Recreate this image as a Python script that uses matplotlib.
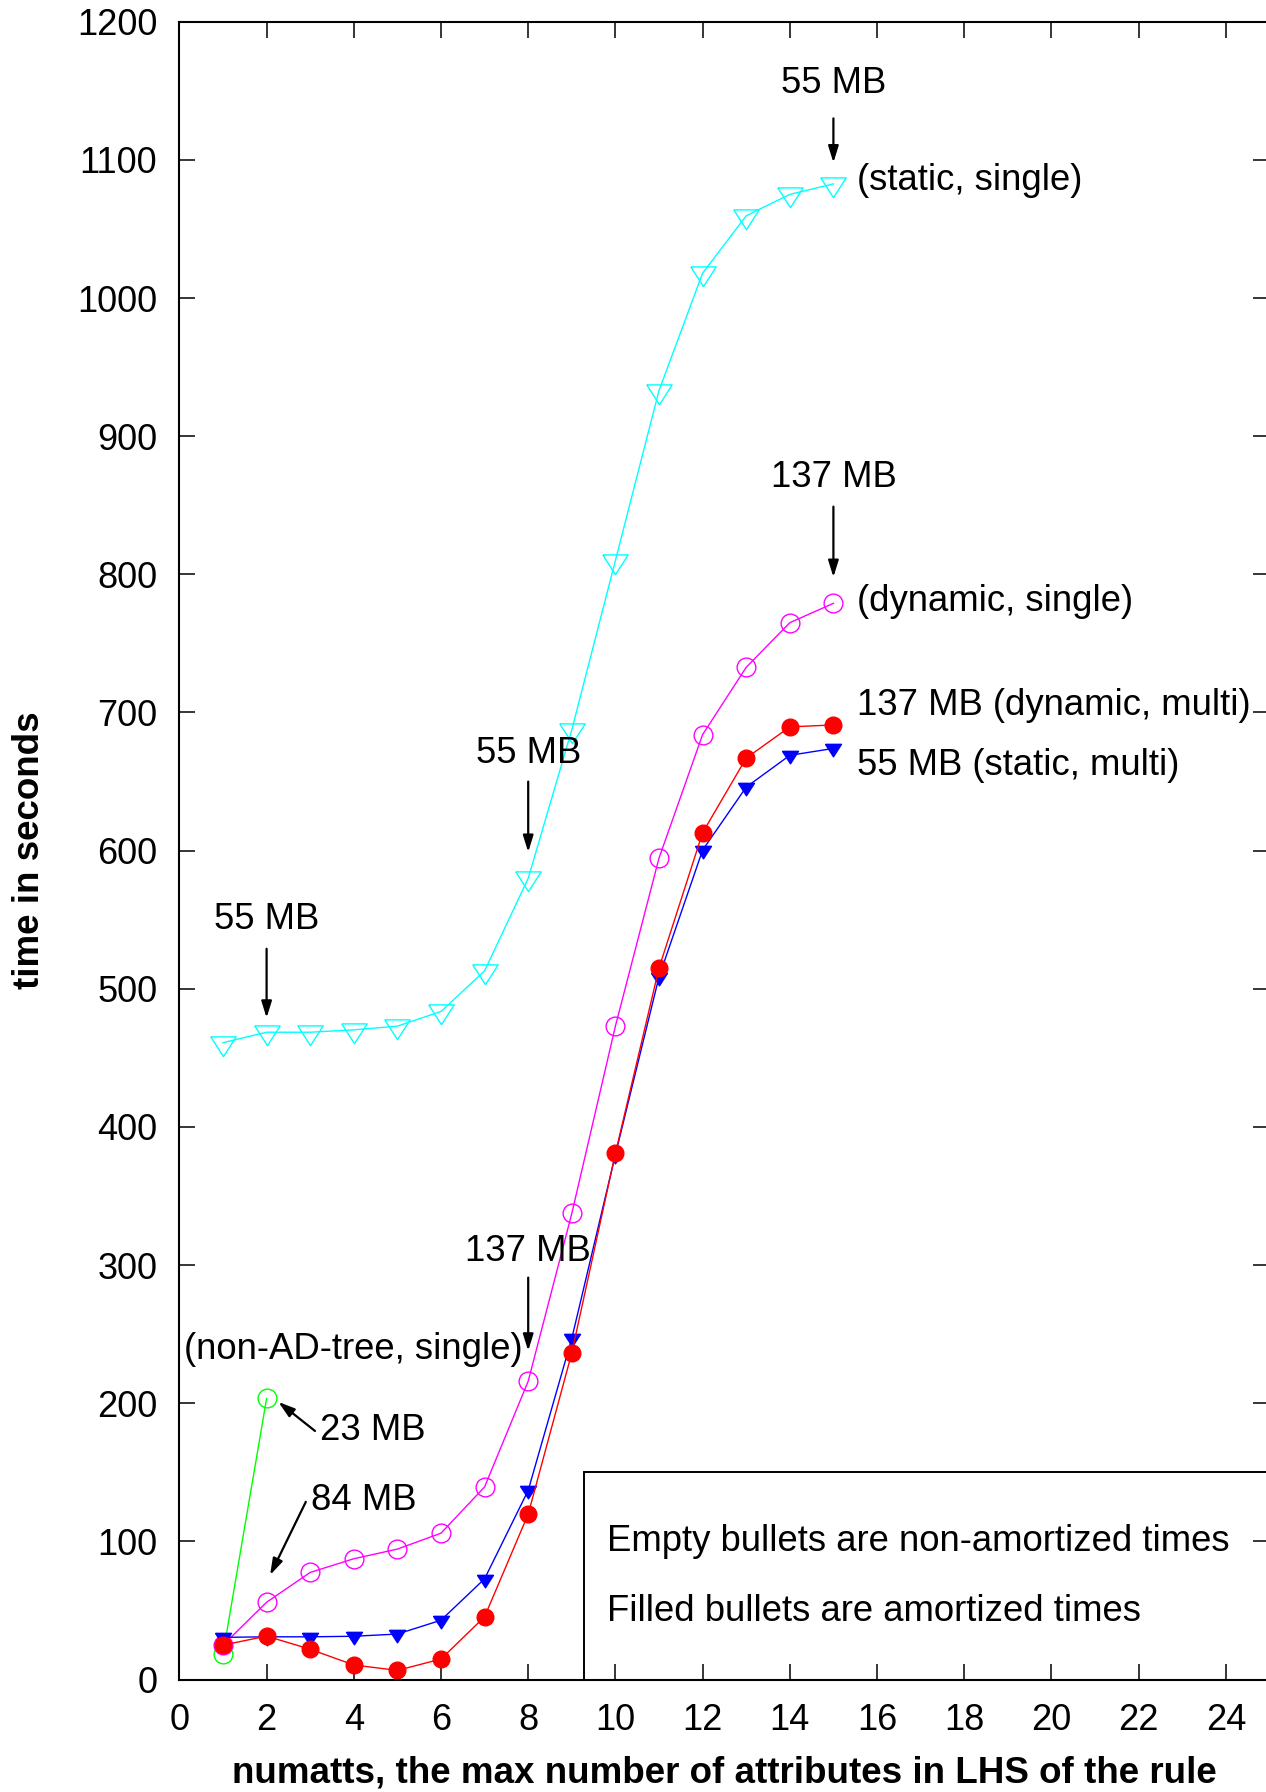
import matplotlib.pyplot as plt
from matplotlib.patches import Rectangle

plt.rcParams['font.family'] = ['Liberation Sans', 'DejaVu Sans']

numatts = [1, 2, 3, 4, 5, 6, 7, 8, 9, 10, 11, 12, 13, 14, 15]
static_single = [461, 468.6, 468.6, 470.3, 473, 483.6, 513, 580, 687.5, 810,
                 933, 1018, 1059.5, 1075, 1082.6]
dynamic_single = [25, 56, 77.6, 87.5, 94.5, 106, 139.5, 216, 337.4, 473,
                  594.6, 684, 732.7, 765, 779]
static_multi = [30.6, 31, 31, 31.4, 33, 43, 73, 137, 247, 380,
                508.6, 600.4, 646, 669, 674]
dynamic_multi = [25, 31.5, 22, 10.6, 6.7, 14.9, 45.5, 119.8, 236.5, 381,
                 515, 613, 667, 689.6, 691]
nonadtree_x = [1, 2]
nonadtree_single = [18.5, 203.5]

# downward triangle with its centroid on the data point
tri_down = [(-1.0, 0.52), (1.0, 0.52), (0.0, -1.04), (-1.0, 0.52)]

fig = plt.figure(figsize=(12.66, 17.92), dpi=100)
ax = fig.add_axes([0.1417, 0.0627, 0.861, 0.9252])

ax.plot(nonadtree_x, nonadtree_single, color='#00ff00', lw=1.0,
        marker='o', ms=13.5, mfc='none', mec='#00ff00', mew=1.0)
ax.plot(numatts, static_single, color='#00ffff', lw=1.0,
        marker=tri_down, ms=19, mfc='none', mec='#00ffff', mew=1.0)
ax.plot(numatts, dynamic_single, color='#ff00ff', lw=1.0,
        marker='o', ms=13.5, mfc='none', mec='#ff00ff', mew=1.0)
ax.plot(numatts, static_multi, color='#0000ff', lw=1.0,
        marker=tri_down, ms=12, mfc='#0000ff', mec='#0000ff')
ax.plot(numatts, dynamic_multi, color='#ff0000', lw=1.0,
        marker='o', ms=12, mfc='#ff0000', mec='#ff0000')

fs = 26.3
arrow = dict(arrowstyle='-|>,head_length=0.45,head_width=0.14', color='black',
             lw=1.6, mutation_scale=22, shrinkA=0, shrinkB=0)

# memory annotations
ax.text(15, 1155, '55 MB', fontsize=fs, ha='center', va='center')
ax.annotate('', xy=(15, 1098), xytext=(15, 1130), arrowprops=arrow)
ax.text(15.54, 1085, '(static, single)', fontsize=fs, ha='left', va='center')

ax.text(15, 870, '137 MB', fontsize=fs, ha='center', va='center')
ax.annotate('', xy=(15, 798), xytext=(15, 849), arrowprops=arrow)
ax.text(15.54, 780, '(dynamic, single)', fontsize=fs, ha='left', va='center')

ax.text(15.54, 705, '137 MB (dynamic, multi)', fontsize=fs, ha='left', va='center')
ax.text(15.54, 662, '55 MB (static, multi)', fontsize=fs, ha='left', va='center')

ax.text(8, 670, '55 MB', fontsize=fs, ha='center', va='center')
ax.annotate('', xy=(8, 599), xytext=(8, 650), arrowprops=arrow)

ax.text(2, 550, '55 MB', fontsize=fs, ha='center', va='center')
ax.annotate('', xy=(2, 479), xytext=(2, 529), arrowprops=arrow)

ax.text(8, 310, '137 MB', fontsize=fs, ha='center', va='center')
ax.annotate('', xy=(8, 238), xytext=(8, 291), arrowprops=arrow)

ax.text(4.0, 239, '(non-AD-tree, single)', fontsize=fs, ha='center', va='center')

ax.text(3.22, 180, '23 MB', fontsize=fs, ha='left', va='center')
ax.annotate('', xy=(2.27, 201), xytext=(3.11, 180), arrowprops=arrow)

ax.text(3.01, 130, '84 MB', fontsize=fs, ha='left', va='center')
ax.annotate('', xy=(2.08, 75.7), xytext=(2.90, 128.7), arrowprops=arrow)

# note box in the lower right corner
ax.add_patch(Rectangle((9.27, 0), 20, 150, fill=False, edgecolor='black',
                       lw=1.4, clip_on=True))
ax.text(9.8, 100, 'Empty bullets are non-amortized times', fontsize=fs,
        ha='left', va='center')
ax.text(9.8, 49.6, 'Filled bullets are amortized times', fontsize=fs,
        ha='left', va='center')

ax.set_xlim(0, 25)
ax.set_ylim(0, 1200)
ax.set_xticks(range(0, 25, 2))
ax.set_yticks(range(0, 1201, 100))
ax.tick_params(direction='in', length=11.5, width=1.1, top=True, right=True,
               labelsize=26)
ax.tick_params(axis='x', pad=17)
ax.tick_params(axis='y', pad=16)
for s in ax.spines.values():
    s.set_linewidth(1.5)

ax.set_xlabel('numatts, the max number of attributes in LHS of the rule',
              fontsize=26.5, fontweight='bold')
ax.set_ylabel('time in seconds', fontsize=26.5, fontweight='bold')
ax.xaxis.set_label_coords(0.5, -0.0455)
ax.yaxis.set_label_coords(-0.1215, 0.5)

fig.savefig('out.png', dpi=100)
